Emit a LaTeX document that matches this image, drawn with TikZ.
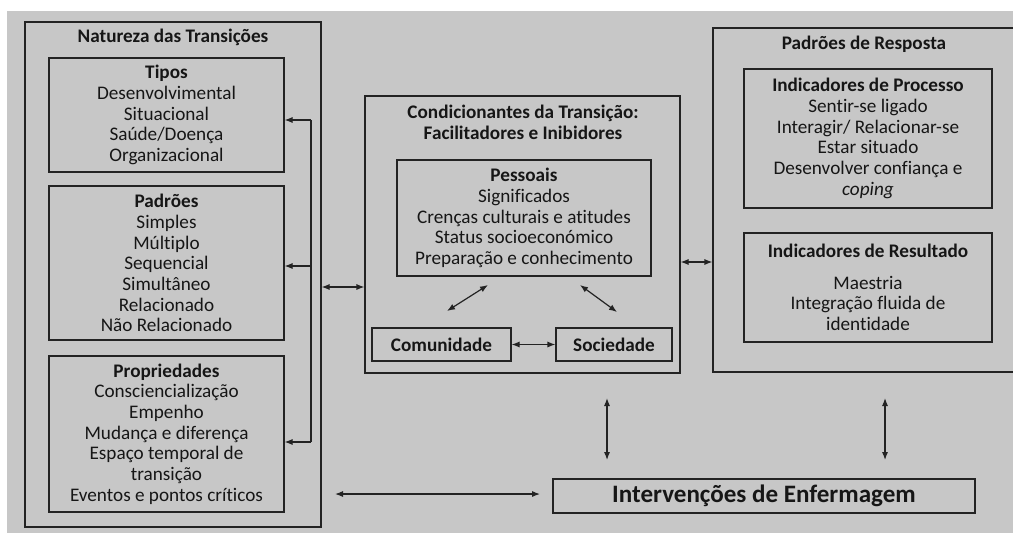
\documentclass[tikz,border=0pt]{standalone}
\usepackage{fontspec}
\setmainfont{Carlito}[Ligatures=NoCommon]
\usetikzlibrary{arrows.meta}
\definecolor{bgc}{RGB}{199,199,199}
\definecolor{ln}{RGB}{35,35,35}
\definecolor{tx}{RGB}{22,22,22}
\tikzset{
  box/.style={draw=ln, line width=0.9pt, rectangle, inner sep=0pt, align=center, text=tx,
    font=\fontsize{14.4}{15.5}\selectfont},
  sz/.style 2 args={minimum width=#1*0.75pt, minimum height=#2*0.75pt},
  ttl/.style={text=tx, font=\bfseries\fontsize{14.4}{15.5}\selectfont, align=center, inner sep=0pt},
  tip/.tip={Latex[length=6pt,width=4.6pt]},
  arr/.style={draw=ln, line width=0.9pt, -tip},
  dbl/.style={draw=ln, line width=0.9pt, tip-tip},
  ln0/.style={draw=ln, line width=0.9pt},
}
\begin{document}
\begin{tikzpicture}[x=0.75pt,y=-0.75pt]
\useasboundingbox (0,0) rectangle (1013,533);
\clip (0,0) rectangle (1013,533);
\fill[bgc] (7,11) rectangle (1013,533);

% Left: Natureza das Transicoes
\node[box, sz={296}{505}] (nat) at (173,274.5) {};
\node[ttl] (natt) at (173,37) {Natureza das Transições};
\node[box, sz={235}{114}] (tipos) at (166.5,115)
  {\textbf{Tipos}\\Desenvolvimental\\Situacional\\Saúde/Doença\\Organizacional};
\node[box, sz={235}{154}] (padr) at (166.5,263)
  {\textbf{Padrões}\\Simples\\Múltiplo\\Sequencial\\Simultâneo\\Relacionado\\Não Relacionado};
\node[box, sz={235}{156}] (prop) at (166.5,434)
  {\textbf{Propriedades}\\Consciencialização\\Empenho\\Mudança e diferença\\Espaço temporal de\\transição\\Eventos e pontos críticos};

% bracket
\coordinate (bt) at (311,120);
\coordinate (bm) at (311,266);
\coordinate (bb) at (311,442);
\draw[ln0] (bt) -- (bb);
\draw[arr] (bt) -- (bt -| tipos.east);
\draw[arr] (bm) -- (bm -| padr.east);
\draw[arr] (bb) -- (bb -| prop.east);

% Middle: Condicionantes
\node[box, sz={315}{277}] (cond) at (522.5,234.5) {};
\node[ttl] (condt) at (523,122.5) {Condicionantes da Transição:\\Facilitadores e Inibidores};
\node[box, sz={254}{116}] (pess) at (524,218)
  {\textbf{Pessoais}\\Significados\\Crenças culturais e atitudes\\Status socioeconómico\\Preparação e conhecimento};
\node[box, sz={139}{33}, font=\bfseries\fontsize{14.4}{15.5}\selectfont] (com) at (441.5,344.5) {Comunidade};
\node[box, sz={116}{33}, font=\bfseries\fontsize{14.4}{15.5}\selectfont] (soc) at (614,344.5) {Sociedade};
\coordinate (d1a) at (447,311);
\coordinate (d1b) at (488,285);
\coordinate (d2a) at (580,285);
\coordinate (d2b) at (617,312);
\draw[dbl] (d1a) -- (d1b);
\draw[dbl] (d2a) -- (d2b);
\draw[dbl] (com.east) -- (soc.west);

% Right: Padroes de Resposta
\node[box, sz={307}{344}] (resp) at (866.5,200) {};
\node[ttl] (respt) at (864,44) {Padrões de Resposta};
\node[box, sz={248}{139}] (proc) at (868,138.5)
  {\textbf{Indicadores de Processo}\\Sentir-se ligado\\Interagir/ Relacionar-se\\Estar situado\\Desenvolver confiança e\\\textit{coping}};
\node[box, sz={248}{109}] (resu) at (868,287.5)
  {\textbf{Indicadores de Resultado}\\[8pt]Maestria\\Integração fluida de\\identidade};

% links between columns
\coordinate (y287) at (0,287);
\coordinate (y262) at (0,262);
\draw[dbl] (nat.east |- y287) -- (cond.west |- y287);
\draw[dbl] (cond.east |- y262) -- (resp.west |- y262);

% Bottom: Intervencoes
\node[box, sz={422}{34}, font=\bfseries\fontsize{18.8}{22}\selectfont] (int) at (764,496) {Intervenções de Enfermagem};
\coordinate (v1a) at (607,398);
\coordinate (v1b) at (607,460);
\coordinate (v2a) at (885,398);
\coordinate (v2b) at (885,460);
\coordinate (h1a) at (335,494);
\coordinate (h1b) at (540,494);
\draw[dbl] (v1a) -- (v1b);
\draw[dbl] (v2a) -- (v2b);
\draw[dbl] (h1a) -- (h1b);
\end{tikzpicture}
\end{document}
